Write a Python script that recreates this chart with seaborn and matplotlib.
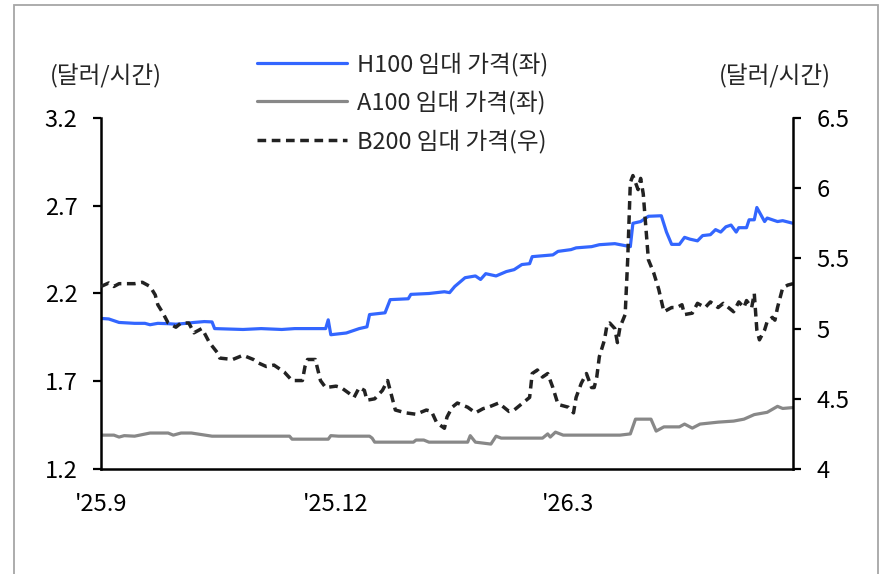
import matplotlib
matplotlib.use("Agg")
import matplotlib.pyplot as plt
import matplotlib.dates as mdates
from matplotlib.ticker import FixedLocator
from matplotlib.patches import Rectangle
import seaborn as sns
import pandas as pd

# ---------------- data (days since 2025-09-01, value) ----------------
start_date = "2025-09-01"

h100_days = [0, 3, 7, 13, 17, 19, 22, 26, 29, 33, 36, 40, 43, 44, 55, 62, 70, 75, 87, 88, 89,
             95, 97, 100, 103, 104, 110, 112, 119, 120, 127, 133, 135, 137, 141, 145, 147, 149,
             153, 157, 160, 163, 166, 167, 175, 177, 182, 184, 190, 193, 199, 205, 206, 209, 212,
             217, 219, 221, 224, 226, 228, 231, 233, 236, 238, 240, 242, 244, 246, 247, 250, 251,
             253, 254, 257, 258, 262, 264, 268]
h100_vals = [2.058, 2.055, 2.035, 2.03, 2.03, 2.022, 2.03, 2.028, 2.025, 2.03, 2.035, 2.04, 2.038,
             2.0, 1.995, 2.0, 1.995, 2.0, 2.0, 2.05, 1.965, 1.975, 1.985, 2.0, 2.01, 2.08, 2.09,
             2.165, 2.17, 2.195, 2.2, 2.21, 2.205, 2.24, 2.29, 2.30, 2.28, 2.313, 2.30, 2.325,
             2.336, 2.365, 2.37, 2.41, 2.42, 2.44, 2.45, 2.46, 2.467, 2.478, 2.484, 2.467, 2.60,
             2.61, 2.64, 2.643, 2.55, 2.48, 2.48, 2.52, 2.51, 2.50, 2.53, 2.535, 2.564, 2.55,
             2.58, 2.59, 2.55, 2.575, 2.575, 2.62, 2.62, 2.69, 2.61, 2.63, 2.61, 2.615, 2.60]

a100_days = [0, 5, 7, 9, 13, 19, 26, 28, 31, 35, 43, 73, 74, 88, 89, 92, 104, 105, 106, 121, 122,
             125, 127, 142, 143, 145, 151, 153, 155, 171, 173, 174, 176, 179, 201, 205, 207, 213,
             215, 218, 224, 226, 229, 232, 239, 245, 249, 253, 258, 262, 264, 268]
a100_vals = [1.393, 1.393, 1.382, 1.39, 1.387, 1.405, 1.405, 1.393, 1.405, 1.405, 1.387, 1.387,
             1.37, 1.37, 1.39, 1.387, 1.387, 1.376, 1.353, 1.353, 1.365, 1.365, 1.353, 1.353,
             1.39, 1.353, 1.342, 1.387, 1.376, 1.376, 1.40, 1.382, 1.41, 1.393, 1.393, 1.40,
             1.484, 1.484, 1.416, 1.44, 1.44, 1.456, 1.433, 1.456, 1.467, 1.473, 1.484, 1.51,
             1.523, 1.557, 1.545, 1.55]

b200_days = [0, 3, 5, 7, 13, 16, 19, 21, 22, 24, 26, 29, 31, 34, 36, 39, 40, 42, 45, 46, 51, 55,
             59, 61, 64, 67, 71, 74, 78, 79, 80, 83, 85, 87, 91, 93, 96, 98, 100, 102, 103, 106,
             109, 111, 113, 114, 118, 122, 126, 128, 130, 133, 134, 136, 138, 142, 145, 148, 150,
             154, 158, 160, 164, 166, 167, 169, 171, 173, 175, 177, 181, 183, 184, 186, 188, 190,
             191, 192, 193, 195, 196, 197, 199, 200, 201, 203, 204, 205, 206, 208, 209, 210, 212,
             214, 216, 217, 218, 221, 223, 225, 226, 229, 231, 234, 236, 239, 241, 243, 245, 247,
             249, 250, 252, 253, 254, 255, 257, 258, 260, 261, 262, 264, 266, 268]
b200_vals = [5.30, 5.325, 5.30, 5.32, 5.32, 5.33, 5.30, 5.24, 5.17, 5.11, 5.04, 5.01, 5.04, 5.04,
             4.97, 5.0, 4.97, 4.90, 4.83, 4.79, 4.78, 4.81, 4.78, 4.755, 4.73, 4.74, 4.69, 4.63,
             4.63, 4.73, 4.78, 4.78, 4.63, 4.58, 4.59, 4.58, 4.54, 4.51, 4.58, 4.56, 4.49, 4.50,
             4.56, 4.63, 4.49, 4.42, 4.40, 4.39, 4.42, 4.41, 4.33, 4.29, 4.37, 4.44, 4.47, 4.44,
             4.40, 4.43, 4.44, 4.47, 4.41, 4.42, 4.48, 4.51, 4.68, 4.705, 4.655, 4.68, 4.58, 4.46,
             4.44, 4.40, 4.51, 4.61, 4.68, 4.58, 4.58, 4.655, 4.80, 4.92, 5.03, 5.04, 5.0, 4.90,
             5.01, 5.10, 5.5, 6.04, 6.09, 5.99, 6.07, 5.96, 5.49, 5.40, 5.28, 5.20, 5.12, 5.15,
             5.15, 5.17, 5.10, 5.11, 5.18, 5.15, 5.19, 5.15, 5.18, 5.15, 5.12, 5.19, 5.15, 5.20,
             5.15, 5.25, 4.99, 4.92, 4.99, 5.05, 5.08, 5.06, 5.15, 5.29, 5.31, 5.32]

labels = ["H100 임대 가격(좌)", "A100 임대 가격(좌)", "B200 임대 가격(우)"]
unit_label = "(달러/시간)"
left_ticks = [1.2, 1.7, 2.2, 2.7, 3.2]
right_ticks = [4, 4.5, 5, 5.5, 6, 6.5]
x_tick_dates = ["2025-09-01", "2025-12-01", "2026-03-01"]
x_tick_labels = ["'25.9", "'25.12", "'26.3"]
x_end_days = 268

# ---------------- style ----------------
sns.set_theme(style="white")
plt.rcParams["font.family"] = ["Noto Sans CJK KR", "DejaVu Sans"]
plt.rcParams["axes.unicode_minus"] = False

t0 = pd.Timestamp(start_date)
def to_df(days, vals):
    return pd.DataFrame({"date": [t0 + pd.Timedelta(days=d) for d in days], "value": vals})

df_h = to_df(h100_days, h100_vals)
df_a = to_df(a100_days, a100_vals)
df_b = to_df(b200_days, b200_vals)

W, H = 882, 574
fig = plt.figure(figsize=(W / 100, H / 100), dpi=100)
ax = fig.add_axes([101 / W, 1 - 469 / H, (793 - 101) / W, (469 - 118) / H])
ax2 = ax.twinx()

BLUE = "#3366ff"
GRAY = "#888888"
DARK = "#222222"

sns.lineplot(data=df_h, x="date", y="value", ax=ax, color=BLUE, linewidth=2.3, label=labels[0], legend=False)
sns.lineplot(data=df_a, x="date", y="value", ax=ax, color=GRAY, linewidth=2.3, label=labels[1], legend=False)
sns.lineplot(data=df_b, x="date", y="value", ax=ax2, color=DARK, linewidth=2.5, label=labels[2], legend=False)
ax2.lines[0].set_dashes((2.5, 1.6))

ax.set_xlim(t0, t0 + pd.Timedelta(days=x_end_days))
ax.set_ylim(1.2, 3.2)
ax2.set_ylim(4, 6.5)
ax.set_xlabel("")
ax.set_ylabel("")
ax2.set_ylabel("")

ax.yaxis.set_major_locator(FixedLocator(left_ticks))
ax.set_yticklabels([f"{v:g}" for v in left_ticks])
ax2.yaxis.set_major_locator(FixedLocator(right_ticks))
ax2.set_yticklabels([f"{v:g}" for v in right_ticks])
xt = [mdates.date2num(pd.Timestamp(d)) for d in x_tick_dates]
ax.set_xticks(xt)
ax.set_xticklabels(x_tick_labels)

FS = 17
for a in (ax, ax2):
    a.tick_params(axis="both", direction="out", length=6, width=1.6, colors="black",
                  labelsize=FS, pad=11)
    for s in a.spines.values():
        s.set_visible(False)
ax.spines["left"].set_visible(True)
ax.spines["bottom"].set_visible(True)
ax2.spines["right"].set_visible(True)
for s in (ax.spines["left"], ax.spines["bottom"], ax2.spines["right"]):
    s.set_color("black")
    s.set_linewidth(1.8)
ax.tick_params(axis="x", pad=11)
ax.grid(False)
ax2.grid(False)

fig.text(50 / W, 1 - 76 / H, unit_label, fontsize=FS, ha="left", va="center")
fig.text(831 / W, 1 - 76 / H, unit_label, fontsize=FS, ha="right", va="center")

handles = ax.get_lines()[:2] + ax2.get_lines()[:1]
leg = fig.legend(handles, labels, loc="upper left", bbox_to_anchor=(257 / W, 1 - 52 / H),
                 frameon=False, fontsize=FS, handlelength=3.8, handletextpad=0.42,
                 labelspacing=0.62, borderpad=0, borderaxespad=0)

# outer frame (open at the bottom)
fig.add_artist(Rectangle((14 / W, -0.05), (878 - 14) / W, (1 - 5 / H) + 0.05,
                         transform=fig.transFigure, fill=False, edgecolor="#a6a6a6",
                         linewidth=1.3))

fig.savefig("out.png", dpi=100)
